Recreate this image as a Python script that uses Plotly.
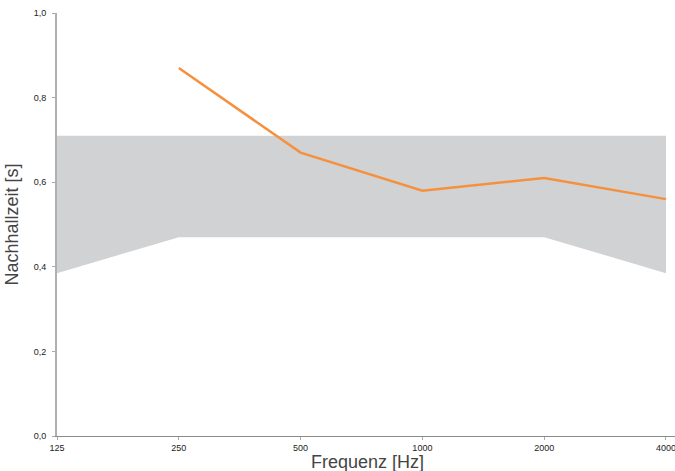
import plotly.graph_objects as go

# Octave-band centre frequencies
frequencies = ["125", "250", "500", "1000", "2000", "4000"]

# Tolerance band for reverberation time [s]
band_upper = [0.71, 0.71, 0.71, 0.71, 0.71, 0.71]
band_lower = [0.385, 0.47, 0.47, 0.47, 0.47, 0.385]

# Measured reverberation time [s] (no value at 125 Hz)
measured = [None, 0.87, 0.67, 0.58, 0.61, 0.56]

y_ticks = [0.0, 0.2, 0.4, 0.6, 0.8, 1.0]
y_tick_text = [f"{v:.1f}".replace(".", ",") for v in y_ticks]

x_pos = list(range(len(frequencies)))

fig = go.Figure()

fig.add_trace(go.Scatter(
    x=x_pos, y=band_lower, mode="lines",
    line=dict(width=0, color="rgba(0,0,0,0)"),
    hoverinfo="skip", showlegend=False,
))
fig.add_trace(go.Scatter(
    x=x_pos, y=band_upper, mode="lines",
    line=dict(width=0, color="rgba(0,0,0,0)"),
    fill="tonexty", fillcolor="#d1d2d4",
    hoverinfo="skip", showlegend=False,
))
fig.add_trace(go.Scatter(
    x=x_pos, y=measured, mode="lines",
    line=dict(color="#f5913e", width=2.5),
    showlegend=False,
))

# x-axis title placed just under the tick labels
fig.add_annotation(
    text="Frequenz [Hz]", xref="paper", yref="paper",
    x=0.503, y=0, xanchor="center", yanchor="top", yshift=-14,
    showarrow=False, font=dict(size=18, color="#444"),
)

fig.update_layout(
    width=675, height=471,
    margin=dict(l=57, r=0, t=13, b=35),
    paper_bgcolor="white", plot_bgcolor="white",
    font=dict(family="Liberation Sans, Arial, sans-serif", color="#222"),
    xaxis=dict(
        range=[0, 5.074], tickvals=x_pos, ticktext=frequencies,
        showgrid=False, zeroline=False,
        showline=True, linecolor="#8a8a8a", linewidth=1,
        ticks="outside", ticklen=3, tickcolor="#aaaaaa",
        ticklabelstandoff=0, ticklabeloverflow="allow",
        tickfont=dict(size=9, color="#222"),
    ),
    yaxis=dict(
        range=[0, 1.0], tickvals=y_ticks, ticktext=y_tick_text,
        showgrid=False, zeroline=False,
        showline=True, linecolor="#b0b0b0", linewidth=2,
        ticks="outside", ticklen=3, tickcolor="#aaaaaa",
        ticklabelstandoff=4,
        tickfont=dict(size=9, color="#222"),
        title=dict(text="Nachhallzeit [s]", font=dict(size=18, color="#444"), standoff=10),
    ),
)

fig.write_html("out.html")
